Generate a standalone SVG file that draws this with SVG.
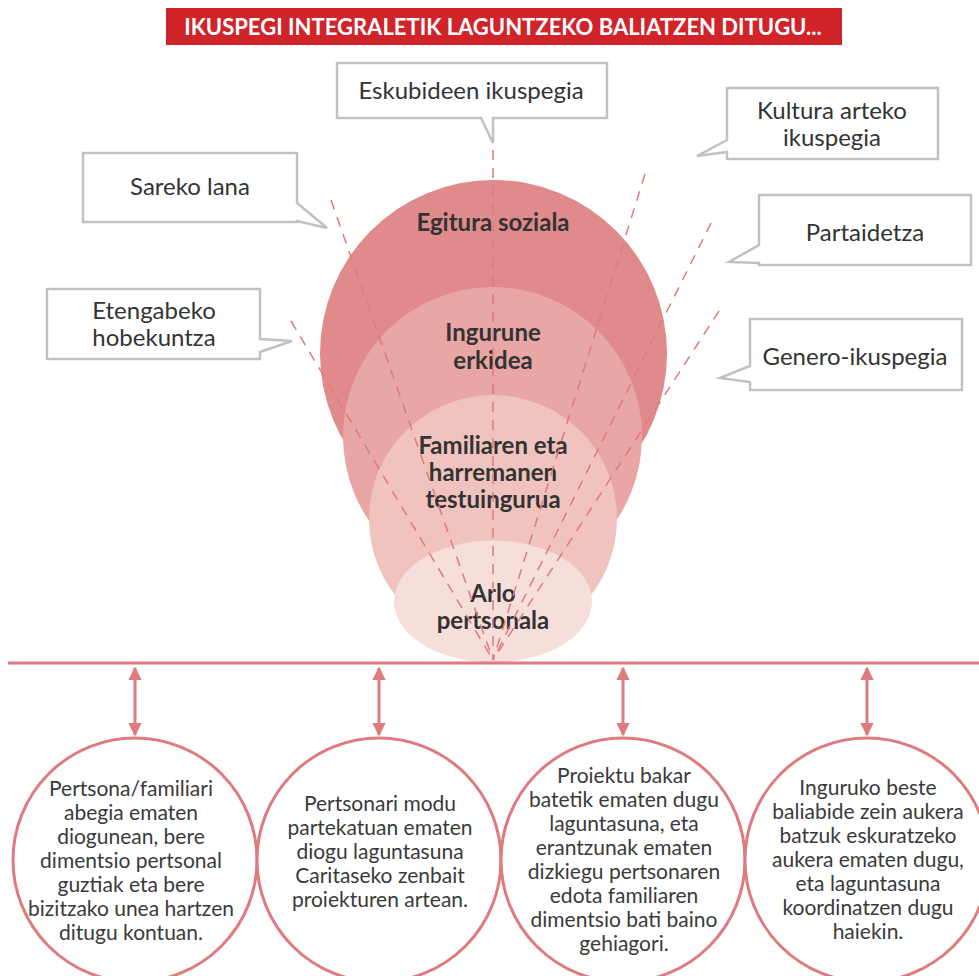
<svg xmlns="http://www.w3.org/2000/svg" width="979" height="976" viewBox="0 0 979 976">
<style>
.callout{fill:#fff;stroke:#c1c1c4;stroke-width:2.5;stroke-linejoin:miter}
.ct{font-family:Lato,"Open Sans","Liberation Sans",sans-serif;font-size:24px;fill:#333;text-anchor:middle}
.lbl{font-family:Lato,"Open Sans","Liberation Sans",sans-serif;font-size:24px;font-weight:bold;fill:#333;text-anchor:middle}
.bt{font-family:Lato,"Open Sans","Liberation Sans",sans-serif;font-size:21px;fill:#3a3a3a;text-anchor:middle}
.dash{stroke:#e07a7e;stroke-width:1.5;stroke-dasharray:10 8;fill:none}
.bc{fill:#fff;stroke:#df7a7e;stroke-width:3}
.arr{stroke:#df7a7e;stroke-width:3;fill:none}
</style>
<defs>
<marker id="ah" viewBox="0 0 10 10" refX="9" refY="5" markerWidth="4.6" markerHeight="4.6" orient="auto-start-reverse" markerUnits="strokeWidth">
<path d="M0,0 L10,5 L0,10 Z" fill="#df7a7e"/>
</marker>
</defs>
<rect width="979" height="976" fill="#fff"/>
<g id="title">
<rect x="166" y="8" width="676" height="37" fill="#d0232a"/>
<text x="503" y="34.5" style="font-family:Lato,'Open Sans','Liberation Sans',sans-serif;font-size:22px;font-weight:bold;fill:#fff;text-anchor:middle">IKUSPEGI INTEGRALETIK LAGUNTZEKO BALIATZEN DITUGU...</text>
</g>
<g id="circle-egitura">
<circle cx="493.5" cy="353.5" r="173.5" fill="#e08a8b"/>
<text class="lbl" x="493" y="231">Egitura soziala</text>
</g>
<g id="circle-ingurune">
<circle cx="492.5" cy="436.5" r="149.5" fill="#e8a6a4"/>
<text class="lbl" x="493" y="341">Ingurune</text>
<text class="lbl" x="493" y="369">erkidea</text>
</g>
<g id="circle-familiaren">
<circle cx="493" cy="519" r="124" fill="#f0c3bf"/>
<text class="lbl" x="493" y="454">Familiaren eta</text>
<text class="lbl" x="493" y="481">harremanen</text>
<text class="lbl" x="493" y="508">testuingurua</text>
</g>
<g id="circle-arlo">
<ellipse cx="493" cy="601.5" rx="99" ry="61" fill="#f6dedb"/>
<text class="lbl" x="493" y="602">Arlo</text>
<text class="lbl" x="493" y="629">pertsonala</text>
</g>
<g id="connectors">
<line class="dash" x1="493" y1="150" x2="493" y2="660"/>
<line class="dash" x1="331" y1="200" x2="493" y2="660"/>
<line class="dash" x1="291" y1="321" x2="493" y2="660"/>
<line class="dash" x1="645" y1="174" x2="493" y2="660"/>
<line class="dash" x1="711" y1="223" x2="493" y2="660"/>
<line class="dash" x1="719" y1="311" x2="493" y2="660"/>
<line x1="8" y1="663" x2="979" y2="663" stroke="#df7a7e" stroke-width="3"/>
<line class="arr" x1="135" y1="668" x2="135" y2="735" marker-start="url(#ah)" marker-end="url(#ah)"/>
<line class="arr" x1="379" y1="668" x2="379" y2="735" marker-start="url(#ah)" marker-end="url(#ah)"/>
<line class="arr" x1="623" y1="668" x2="623" y2="735" marker-start="url(#ah)" marker-end="url(#ah)"/>
<line class="arr" x1="867" y1="668" x2="867" y2="735" marker-start="url(#ah)" marker-end="url(#ah)"/>
</g>
<g id="callout-eskubideen">
<path class="callout" d="M337,63 H607 V118 H493 V143 L481,118 H337 Z"/>
<text class="ct" x="471" y="99">Eskubideen ikuspegia</text>
</g>
<g id="callout-kultura">
<path class="callout" d="M727,88 H938 V159 H727 V152 L697,156 L727,140 Z"/>
<text class="ct" x="832" y="119">Kultura arteko</text>
<text class="ct" x="832" y="146">ikuspegia</text>
</g>
<g id="callout-sareko">
<path class="callout" d="M83,153 H297 V203 L327,228 L297,221 V222 H83 Z"/>
<text class="ct" x="190" y="195">Sareko lana</text>
</g>
<g id="callout-partaidetza">
<path class="callout" d="M759,195 H971 V265 H759 V263 L729,262 L759,245 Z"/>
<text class="ct" x="865" y="241">Partaidetza</text>
</g>
<g id="callout-etengabeko">
<path class="callout" d="M47,289 H260 V339 L292,341 L260,352 V359 H47 Z"/>
<text class="ct" x="154" y="319">Etengabeko</text>
<text class="ct" x="154" y="346">hobekuntza</text>
</g>
<g id="callout-genero">
<path class="callout" d="M750,319 H962 V390 H750 V382 L720,378 L750,366 Z"/>
<text class="ct" x="855" y="365">Genero-ikuspegia</text>
</g>
<g id="bc1">
<circle class="bc" cx="135" cy="860" r="122"/>
<text class="bt" x="131" y="796">Pertsona/familiari</text>
<text class="bt" x="131" y="820">abegia ematen</text>
<text class="bt" x="131" y="844">diogunean, bere</text>
<text class="bt" x="131" y="868">dimentsio pertsonal</text>
<text class="bt" x="131" y="892">guztiak eta bere</text>
<text class="bt" x="131" y="916">bizitzako unea hartzen</text>
<text class="bt" x="131" y="940">ditugu kontuan.</text>
</g>
<g id="bc2">
<circle class="bc" cx="379" cy="860" r="122"/>
<text class="bt" x="380" y="811">Pertsonari modu</text>
<text class="bt" x="380" y="835">partekatuan ematen</text>
<text class="bt" x="380" y="859">diogu laguntasuna</text>
<text class="bt" x="380" y="883">Caritaseko zenbait</text>
<text class="bt" x="380" y="907">proiekturen artean.</text>
</g>
<g id="bc3">
<circle class="bc" cx="623" cy="860" r="122"/>
<text class="bt" x="624" y="783">Proiektu bakar</text>
<text class="bt" x="624" y="807">batetik ematen dugu</text>
<text class="bt" x="624" y="831">laguntasuna, eta</text>
<text class="bt" x="624" y="855">erantzunak ematen</text>
<text class="bt" x="624" y="879">dizkiegu pertsonaren</text>
<text class="bt" x="624" y="903">edota familiaren</text>
<text class="bt" x="624" y="927">dimentsio bati baino</text>
<text class="bt" x="624" y="951">gehiagori.</text>
</g>
<g id="bc4">
<circle class="bc" cx="867" cy="860" r="122"/>
<text class="bt" x="868" y="795">Inguruko beste</text>
<text class="bt" x="868" y="819">baliabide zein aukera</text>
<text class="bt" x="868" y="843">batzuk eskuratzeko</text>
<text class="bt" x="868" y="867">aukera ematen dugu,</text>
<text class="bt" x="868" y="891">eta laguntasuna</text>
<text class="bt" x="868" y="915">koordinatzen dugu</text>
<text class="bt" x="868" y="939">haiekin.</text>
</g>
</svg>
